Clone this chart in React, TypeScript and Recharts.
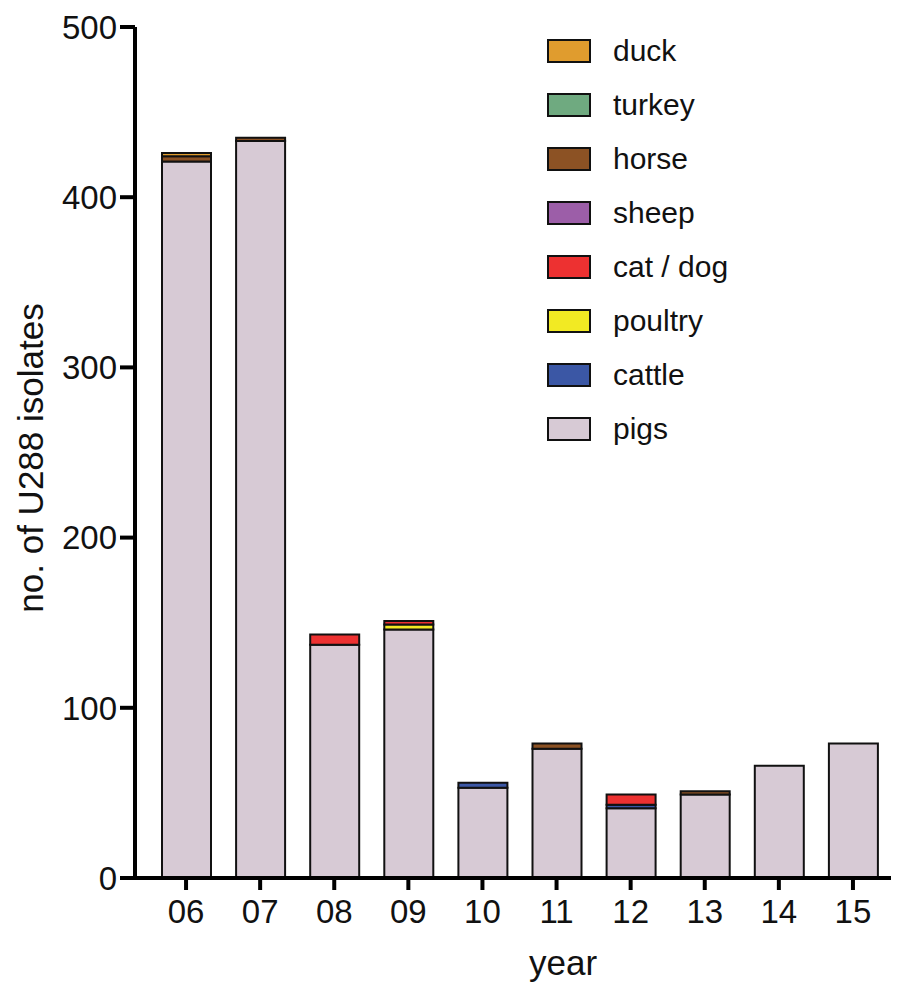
import React from 'react';
import { BarChart, Bar, XAxis, YAxis } from 'recharts';

const years = ['06', '07', '08', '09', '10', '11', '12', '13', '14', '15'];
const pigs = [421, 433, 137, 146, 53, 76, 41, 49, 66, 79];
const cattle = [0, 0, 0, 0, 3, 0, 2, 0, 0, 0];
const poultry = [0, 0, 0, 3, 0, 0, 0, 0, 0, 0];
const catDog = [0, 0, 6, 2, 0, 0, 6, 0, 0, 0];
const sheep = [0, 0, 0, 0, 0, 0, 0, 0, 0, 0];
const horse = [3, 2, 0, 0, 0, 3, 0, 2, 0, 0];
const turkey = [0, 0, 0, 0, 0, 0, 0, 0, 0, 0];
const duck = [2, 0, 0, 0, 0, 0, 0, 0, 0, 0];
const yTicks = [0, 100, 200, 300, 400, 500];

// bottom to top of each stack
const series = [
  { key: 'pigs', name: 'pigs', color: '#d7cad5', values: pigs },
  { key: 'cattle', name: 'cattle', color: '#3b57a5', values: cattle },
  { key: 'poultry', name: 'poultry', color: '#f2ea23', values: poultry },
  { key: 'catDog', name: 'cat / dog', color: '#ed3131', values: catDog },
  { key: 'sheep', name: 'sheep', color: '#9c5ea8', values: sheep },
  { key: 'horse', name: 'horse', color: '#8c5224', values: horse },
  { key: 'turkey', name: 'turkey', color: '#6faa80', values: turkey },
  { key: 'duck', name: 'duck', color: '#e09c2e', values: duck },
];

const data = years.map((year, i) => {
  const row: Record<string, string | number> = { year };
  series.forEach((s) => {
    row[s.key] = s.values[i];
  });
  return row;
});

const font = '"Liberation Sans", Arial, Helvetica, sans-serif';

const LegendBox = () => (
  <div style={{ position: 'absolute', left: 547, top: 24, fontFamily: font }}>
    {[...series].reverse().map((s) => (
      <div key={s.key} style={{ display: 'flex', alignItems: 'center', height: 54 }}>
        <div
          style={{
            width: 40,
            height: 20,
            background: s.color,
            border: '2px solid #111',
            boxSizing: 'content-box',
          }}
        />
        <span style={{ marginLeft: 22, fontSize: 30, color: '#111' }}>{s.name}</span>
      </div>
    ))}
  </div>
);

const YTitle = () => (
  <text
    x={30}
    y={458}
    transform="rotate(-90 30 458)"
    textAnchor="middle"
    dominantBaseline="central"
    fontSize={35}
    fontFamily={font}
    fill="#111"
  >
    no. of U288 isolates
  </text>
);

const XTitle = () => (
  <text x={563} y={975} textAnchor="middle" fontSize={35} fontFamily={font} fill="#111">
    year
  </text>
);

export default function App() {
  return (
    <div style={{ position: 'absolute', left: 0, top: 0, width: 902, height: 984, background: '#fff' }}>
      <BarChart
        width={902}
        height={984}
        data={data}
        margin={{ top: 27, right: 11, bottom: 6, left: 0 }}
        barSize={49}
      >
        <XAxis
          dataKey="year"
          height={100}
          padding={{ left: 14, right: 1 }}
          axisLine={{ stroke: '#000', strokeWidth: 4 }}
          tickLine={{ stroke: '#000', strokeWidth: 4 }}
          tickSize={12}
          tickMargin={10}
          tick={{ fill: '#111', fontSize: 33, fontFamily: font }}
          label={<XTitle />}
        />
        <YAxis
          width={135}
          domain={[0, 500]}
          ticks={yTicks}
          axisLine={{ stroke: '#000', strokeWidth: 4 }}
          tickLine={{ stroke: '#000', strokeWidth: 4 }}
          tickSize={15}
          tickMargin={3}
          tick={{ fill: '#111', fontSize: 33, fontFamily: font }}
          label={<YTitle />}
        />
        {series.map((s) => (
          <Bar
            key={s.key}
            dataKey={s.key}
            name={s.name}
            stackId="a"
            fill={s.color}
            stroke="#111"
            strokeWidth={2}
            isAnimationActive={false}
          />
        ))}
      </BarChart>
      <LegendBox />
    </div>
  );
}
